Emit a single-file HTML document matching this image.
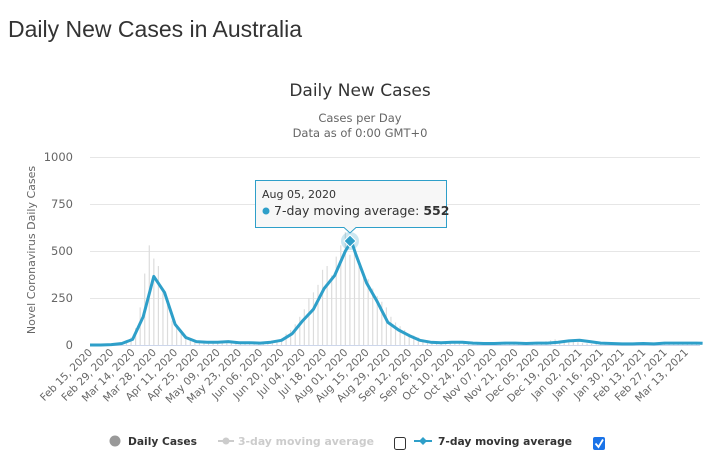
<!DOCTYPE html>
<html><head><meta charset="utf-8"><style>
body{margin:0;background:#fff;font-family:"Liberation Sans","DejaVu Sans",sans-serif;}
svg text{font-family:"DejaVu Sans","Liberation Sans",sans-serif;}
</style></head><body>
<svg width="716" height="464">
<text x="8" y="37" font-size="23" fill="#333" style="font-family:'Liberation Sans',sans-serif">Daily New Cases in Australia</text>
<text x="360" y="96" font-size="17" fill="#333" text-anchor="middle">Daily New Cases</text>
<text x="360" y="122" font-size="11.5" fill="#666" text-anchor="middle">Cases per Day</text>
<text x="360" y="137" font-size="11.5" fill="#666" text-anchor="middle">Data as of 0:00 GMT+0</text>
<text transform="translate(35,250) rotate(-90)" font-size="11" fill="#666" text-anchor="middle">Novel Coronavirus Daily Cases</text>
<g id="grid"></g><g id="bars"></g><g id="line"></g><g id="xlabels"></g>
<g>
<circle cx="350" cy="241" r="9" fill="#2e9fc9" opacity="0.25"/>
<path d="M350 235 L356 241 L350 247 L344 241Z" fill="#2e9fc9" stroke="#fff" stroke-width="1"/>
<path d="M255.5 180.5 H446.5 V227.5 H356 L350 233 L344 227.5 H255.5Z" fill="#f7f7f7" fill-opacity="0.95" stroke="#2e9fc9" stroke-width="1"/>
<text x="262" y="198" font-size="11" fill="#333">Aug 05, 2020</text>
<circle cx="266" cy="211" r="3.5" fill="#2e9fc9"/>
<text x="274" y="215" font-size="12.5" fill="#333">7-day moving average: <tspan font-weight="bold">552</tspan></text>
</g>
<g>
<g><circle cx="115" cy="441" r="5.5" fill="#999"/><text x="128" y="445" font-size="11" font-weight="bold" fill="#333" textLength="69" lengthAdjust="spacingAndGlyphs">Daily Cases</text></g>
<g><line x1="218" y1="441" x2="234" y2="441" stroke="#ccc" stroke-width="2"/><circle cx="226" cy="441" r="3.5" fill="#ccc"/><text x="238" y="445" font-size="11" font-weight="bold" fill="#ccc" textLength="136" lengthAdjust="spacingAndGlyphs">3-day moving average</text></g>
<rect x="394.5" y="437.5" width="11" height="12" rx="2" fill="#fff" stroke="#333"/>
<g><line x1="414" y1="441" x2="432" y2="441" stroke="#2e9fc9" stroke-width="2"/><path d="M423 437 L427 441 L423 445 L419 441Z" fill="#2e9fc9"/><text x="438" y="445" font-size="11" font-weight="bold" fill="#333" textLength="134" lengthAdjust="spacingAndGlyphs">7-day moving average</text></g>
<g><rect x="593" y="437" width="12" height="13" rx="2" fill="#1a73e8"/><path d="M595.5 443.5 L598.5 447 L603 439.5" stroke="#fff" stroke-width="1.8" fill="none"/></g>
</g>
</svg>
<script>
const yTicks=[0,250,500,750,1000];
const xTickLabels=["Feb 15, 2020","Feb 29, 2020","Mar 14, 2020","Mar 28, 2020","Apr 11, 2020","Apr 25, 2020","May 09, 2020","May 23, 2020","Jun 06, 2020","Jun 20, 2020","Jul 04, 2020","Jul 18, 2020","Aug 01, 2020","Aug 15, 2020","Aug 29, 2020","Sep 12, 2020","Sep 26, 2020","Oct 10, 2020","Oct 24, 2020","Nov 07, 2020","Nov 21, 2020","Dec 05, 2020","Dec 19, 2020","Jan 02, 2021","Jan 16, 2021","Jan 30, 2021","Feb 13, 2021","Feb 27, 2021","Mar 13, 2021"];
// daily cases sampled every 3 days from Feb 15, 2020
const dailyCases=[0,0,0,1,2,3,8,10,20,40,90,200,380,530,460,420,300,250,130,90,60,40,30,20,15,12,15,18,20,15,12,20,14,10,12,10,12,10,15,18,20,25,35,60,80,110,150,190,250,280,320,400,420,370,470,530,600,480,520,420,380,350,300,260,230,200,150,120,100,80,60,50,40,30,25,20,15,12,14,18,20,15,12,10,12,15,10,8,8,10,12,10,8,10,12,10,8,10,12,15,20,25,30,20,25,22,18,15,10,8,6,8,5,6,8,6,6,5,8,10,8,6,10,12,10,8,10,12,10,8,10,12,10,12,10];
// 7-day average, weekly from Feb 15, 2020 (day offset in avgDays)
const avgDays=[0,7,14,21,28,35,42,49,56,63,70,77,84,91,98,105,112,119,126,133,140,147,154,161,168,172,175,182,189,196,203,210,217,224,231,238,245,252,259,266,273,280,287,294,301,308,315,322,329,336,343,350,357,364,371,378,385,392,399,403];
const avgValues=[0,0,2,8,30,150,365,280,110,40,18,15,15,18,12,12,10,15,25,60,130,190,300,370,500,552,480,330,230,120,80,50,25,15,12,15,15,10,8,8,10,10,8,10,10,15,22,25,18,10,8,6,6,8,6,10,10,10,10,9];
const X0=90,PXD=1.52,Y0=345,PXV=0.188;
const xs=d=>X0+d*PXD, ys=v=>Y0-v*PXV;
const NS="http://www.w3.org/2000/svg";
const mk=(t,a)=>{const e=document.createElementNS(NS,t);for(const k in a)e.setAttribute(k,a[k]);return e;};
const grid=document.getElementById('grid');
yTicks.forEach(v=>{
 const l=mk('line',{x1:X0,x2:700,y1:ys(v)+0.5,y2:ys(v)+0.5,stroke:v===0?'#ccd6eb':'#e6e6e6'});
 
 
 grid.appendChild(l);
 const t=mk('text',{x:73,y:ys(v)+4,'text-anchor':'end','font-size':'11.5',fill:'#666'});
 t.textContent=v;
 
 
 grid.appendChild(t);
});
const bars=document.getElementById('bars');
dailyCases.forEach((v,i)=>{
 const d=i*3;
 const r=mk('rect',{x:xs(d)-0.6,y:ys(v),width:1.2,height:Math.max(0,v*PXV),fill:'#dcdcdc'});
 
 
 bars.appendChild(r);
});
const p=mk('path',{d:avgDays.map((d,i)=>(i?'L':'M')+xs(d).toFixed(1)+' '+ys(avgValues[i]).toFixed(1)).join(' '),fill:'none',stroke:'#2e9fc9','stroke-width':3,'stroke-linejoin':'round'});


document.getElementById('line').appendChild(p);
const xl=document.getElementById('xlabels');
xTickLabels.forEach((s,i)=>{
 const x=xs(i*14);
 const t=mk('text',{transform:`translate(${x+3},${353}) rotate(-45)`,'text-anchor':'end','font-size':'10.5',fill:'#666'});
 t.textContent=s;
 
 
 xl.appendChild(t);
});
</script>
</body></html>
